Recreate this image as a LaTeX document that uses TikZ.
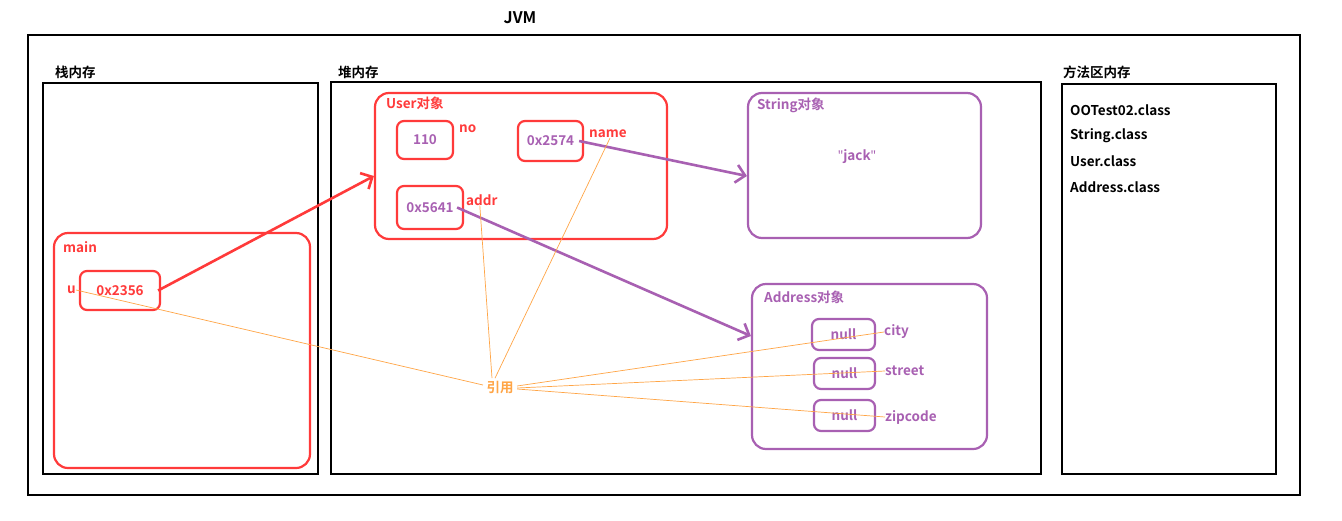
\documentclass[tikz,border=0pt]{standalone}
\usepackage{fontspec}
\setmainfont{Noto Sans CJK SC}[BoldFont={* Bold}]
\newfontfamily\quotefont{Noto Sans}
\usetikzlibrary{arrows.meta}
\definecolor{objred}{RGB}{255,58,58}
\definecolor{objpurple}{RGB}{168,96,178}
\definecolor{refline}{RGB}{255,165,70}
\tikzset{
	memframe/.style={draw=black,line width=2.6pt,inner sep=0pt},
	redobj/.style={draw=objred,line width=2.2pt,rounded corners=14pt,inner sep=0pt},
	purpleobj/.style={draw=objpurple,line width=2.2pt,rounded corners=14pt,inner sep=0pt},
	redslot/.style={draw=objred,line width=2.2pt,rounded corners=7pt,inner sep=0pt},
	purpleslot/.style={draw=objpurple,line width=2.2pt,rounded corners=7pt,inner sep=0pt,text=objpurple},
	lbl/.style={anchor=west,inner sep=0pt},
	pointer/.style={line width=2.6pt,-{Straight Barb[length=9pt,width=18pt]}},
	reflink/.style={draw=refline,line width=0.7pt}
}
\begin{document}
\begin{tikzpicture}[x=1pt,y=-1pt,font=\fontsize{13.5}{15}\selectfont\bfseries]
	\useasboundingbox[fill=white] (0,0) rectangle (1342,520);
	\node (jvmtitle) at (520,18) {\fontsize{16}{18}\selectfont JVM};
	\node[memframe,minimum width=1272pt,minimum height=460pt] (jvm) at (664,265) {};
	\node[memframe,minimum width=275pt,minimum height=391pt] (stack) at (180.5,278.5) {};
	\node[lbl] (stacktitle) at (55,72) {栈内存};
	\node[memframe,minimum width=710pt,minimum height=392pt] (heap) at (686,278) {};
	\node[lbl] (heaptitle) at (338,72) {堆内存};
	\node[memframe,minimum width=214pt,minimum height=390pt] (method) at (1169,279) {};
	\node[lbl] (methodtitle) at (1063,72) {方法区内存};
	\node[lbl] (cls1) at (1070,110) {OOTest02.class};
	\node[lbl] (cls2) at (1070,136) {String.class};
	\node[lbl] (cls3) at (1070,161) {User.class};
	\node[lbl] (cls4) at (1070,187) {Address.class};
	% stack frame
	\node[redobj,minimum width=256pt,minimum height=235pt] (main) at (182,350.5) {};
	\node[lbl,text=objred] (maintitle) at (63,247) {main};
	\node[redslot,minimum width=80pt,minimum height=39pt,text=objred] (uref) at (120,290.5) {0x2356};
	\node[lbl,text=objred] (ulabel) at (67,290) {u};
	% User
	\node[redobj,minimum width=292pt,minimum height=146pt] (user) at (521,166) {};
	\node[lbl,text=objred] (usertitle) at (386,103) {User对象};
	\node[redslot,minimum width=56pt,minimum height=38pt,text=objpurple] (noslot) at (425,140) {110};
	\node[lbl,text=objred] (nolabel) at (459,129) {no};
	\node[redslot,minimum width=65pt,minimum height=40pt,text=objpurple] (nameslot) at (550.5,141) {0x2574};
	\node[lbl,text=objred] (namelabel) at (589,134) {name};
	\node[redslot,minimum width=66pt,minimum height=43pt,text=objpurple] (addrslot) at (430,207.5) {0x5641};
	\node[lbl,text=objred] (addrlabel) at (466,200) {addr};
	% String
	\node[purpleobj,minimum width=233pt,minimum height=145pt] (string) at (864.5,165.5) {};
	\node[lbl,text=objpurple] (stringtitle) at (757,105) {String对象};
	\node[text=objpurple] (jack) at (857,157) {{\quotefont"}jack{\quotefont"}};
	% Address
	\node[purpleobj,minimum width=235pt,minimum height=165pt] (address) at (869.5,366.5) {};
	\node[lbl,text=objpurple] (addresstitle) at (764,297) {Address对象};
	\node[purpleslot,minimum width=63pt,minimum height=31pt] (cityslot) at (843.5,334.5) {null};
	\node[lbl,text=objpurple] (citylabel) at (884,332) {city};
	\node[purpleslot,minimum width=61pt,minimum height=31pt] (streetslot) at (844.5,373.5) {null};
	\node[lbl,text=objpurple] (streetlabel) at (885,371) {street};
	\node[purpleslot,minimum width=61pt,minimum height=31pt] (zipslot) at (844.5,415.5) {null};
	\node[lbl,text=objpurple] (ziplabel) at (885,417) {zipcode};
	% pointers
	\coordinate (userin) at (user.west |- 0,176);
	\coordinate (stringin) at (string.west |- 0,176);
	\coordinate (addressin) at (address.west |- 0,336);
	\draw[pointer,objred] ([xshift=-3pt]uref.east) -- (userin);
	\draw[pointer,objpurple] ([xshift=-5pt]nameslot.east) -- (stringin);
	\draw[pointer,objpurple] ([xshift=-7pt]addrslot.east) -- (addressin);
	% references
	\node[text=refline] (yinyong) at (500,388) {引用};
	\draw[reflink] ([yshift=3pt]yinyong.west) -- (ulabel.east);
	\draw[reflink] ([xshift=-8pt]yinyong.north) -- ([xshift=-2pt]addrlabel.south);
	\draw[reflink] ([xshift=-5pt]yinyong.north) -- ([xshift=2pt]namelabel.south);
	\draw[reflink] ([yshift=2pt]yinyong.east) -- (citylabel.west);
	\draw[reflink] (yinyong.east) -- (streetlabel.west);
	\draw[reflink] ([yshift=-1pt]yinyong.east) -- (ziplabel.west);
\end{tikzpicture}
\end{document}
